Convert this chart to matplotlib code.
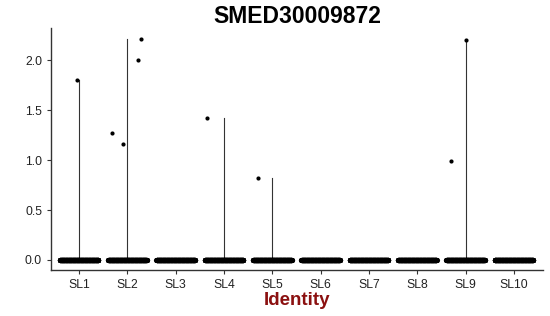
import numpy as np
import matplotlib.pyplot as plt

plt.rcParams['font.family'] = ['Liberation Sans', 'DejaVu Sans']

clusters = ['SL1', 'SL2', 'SL3', 'SL4', 'SL5', 'SL6', 'SL7', 'SL8', 'SL9', 'SL10']
# expression values above zero, per cluster
nonzero_vals = [[1.80], [1.27, 1.16, 2.00, 2.21], [], [1.42], [0.82], [], [], [], [0.99, 2.20], []]
# horizontal jitter used for those points (fraction of a category step)
nonzero_jit = [[-0.04], [-0.33, -0.10, 0.22, 0.29], [], [-0.35], [-0.30], [], [], [], [-0.30, 0.0], []]
# number of cells with zero expression per cluster
zero_counts = [300, 300, 300, 300, 300, 300, 300, 300, 300, 300]

fig, ax = plt.subplots(figsize=(5.5, 3.16), dpi=100)
fig.subplots_adjust(left=0.093, right=0.987, top=0.91, bottom=0.146)

for i, name in enumerate(clusters):
    pos = i + 1
    vals = nonzero_vals[i]
    # the violin collapses to a thin line from 0 to the max
    if vals:
        ax.plot([pos, pos], [0, max(vals)], color='#333333', lw=0.8, zorder=1)
    xs = pos + np.linspace(-0.4, 0.4, zero_counts[i])
    ax.scatter(xs, np.zeros(zero_counts[i]), s=14, color='black', lw=0, zorder=2)
    if vals:
        ax.scatter(pos + np.array(nonzero_jit[i]), vals, s=9, color='black', lw=0, zorder=3)

ax.set_xlim(0.42, 10.6)
ax.set_ylim(-0.1, 2.32)
ax.set_xticks(range(1, len(clusters) + 1))
ax.set_xticklabels(clusters)
ax.set_yticks([0, 0.5, 1.0, 1.5, 2.0])
ax.set_yticklabels(['0.0', '0.5', '1.0', '1.5', '2.0'])
ax.tick_params(labelsize=8.8, colors='#333333', labelcolor='#222222', length=3, width=0.8)

for side in ['top', 'right']:
    ax.spines[side].set_visible(False)
for side in ['left', 'bottom']:
    ax.spines[side].set_linewidth(1.0)
    ax.spines[side].set_color('#333333')

ax.set_xlabel('Identity', fontsize=13.5, fontweight='bold', color='#8B1010', labelpad=1)
ax.set_title('SMED30009872', fontsize=16.5, fontweight='bold', pad=4)

plt.savefig('out.png', dpi=100)
